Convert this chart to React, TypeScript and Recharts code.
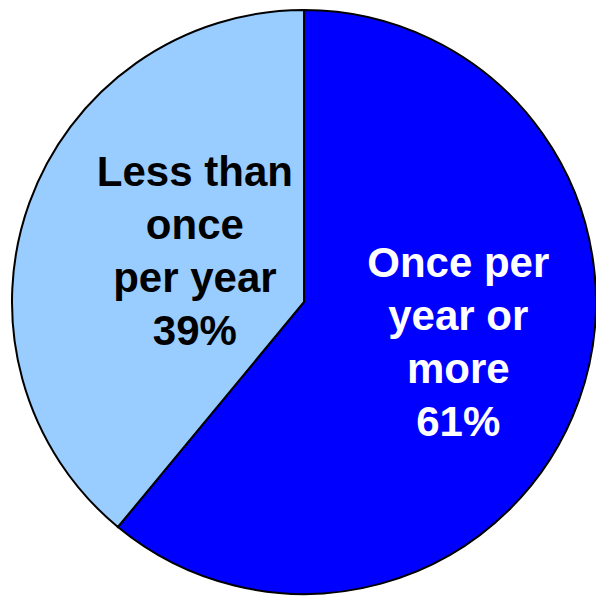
import * as React from "react"
import { PieChart, Pie, Cell } from "recharts"

const categories = ["Once per year or more", "Less than once per year"]
const shares = [61, 39]
const labelLines = [
  ["Once per", "year or", "more", "61%"],
  ["Less than", "once", "per year", "39%"],
]

const colors = ["#0000FF", "#99CCFF"]
const textColors = ["#FFFFFF", "#000000"]
// where each label block sits, relative to the slice middle
const labelSpot = [
  { radius: 0.545, angleShift: 5.6 },
  { radius: 0.414, angleShift: -5.7 },
]

const data = categories.map((name, i) => ({ name, value: shares[i] }))

const FONT_SIZE = 42
const LINE_H = 53
const RAD = Math.PI / 180

function SliceLabel(props: any) {
  const { cx, cy, midAngle, outerRadius, index } = props
  const spot = labelSpot[index]
  const a = (midAngle + spot.angleShift) * RAD
  const r = outerRadius * spot.radius
  const x = cx + r * Math.cos(a)
  const y = cy - r * Math.sin(a)
  const lines = labelLines[index]
  const firstBaseline = y - ((lines.length - 1) / 2) * LINE_H + FONT_SIZE * 0.36
  return (
    <text
      x={x}
      y={firstBaseline}
      textAnchor="middle"
      fill={textColors[index]}
      fontFamily="'Liberation Sans', Arial, sans-serif"
      fontWeight="bold"
      fontSize={FONT_SIZE}
    >
      {lines.map((line, i) => (
        <tspan key={i} x={x} dy={i === 0 ? 0 : LINE_H}>
          {line}
        </tspan>
      ))}
    </text>
  )
}

export default function App() {
  return (
    <div style={{ position: "fixed", left: 0, top: 0, width: 596, height: 596, background: "#fff" }}>
      <PieChart width={596} height={596} margin={{ top: 0, right: 0, bottom: 0, left: 0 }}>
        <Pie
          data={data}
          dataKey="value"
          nameKey="name"
          cx={304}
          cy={302}
          outerRadius={292}
          startAngle={90}
          endAngle={-270}
          stroke="#000"
          strokeWidth={2}
          label={SliceLabel}
          labelLine={false}
          isAnimationActive={false}
        >
          {data.map((d, i) => (
            <Cell key={d.name} fill={colors[i]} />
          ))}
        </Pie>
      </PieChart>
    </div>
  )
}
